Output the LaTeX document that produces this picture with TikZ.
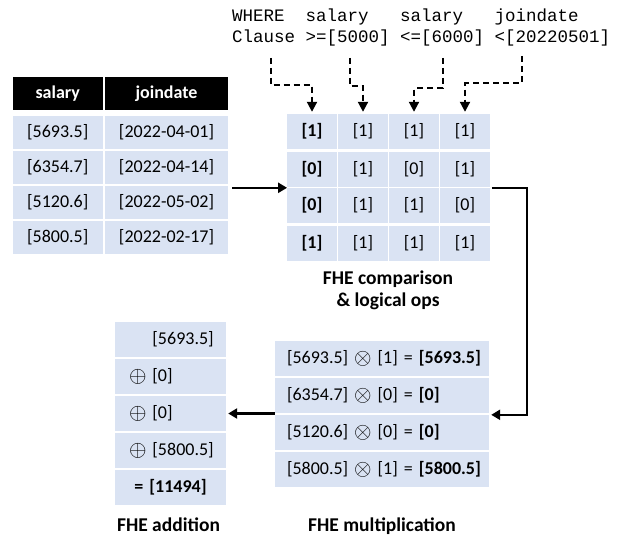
\documentclass[tikz,border=0pt]{standalone}
\usepackage{fontspec}
\usepackage{graphicx}
\setmainfont{Carlito}
\setmonofont{Liberation Mono}
\usetikzlibrary{arrows.meta}
\definecolor{cellblue}{RGB}{218,227,243}
\newcommand{\cellfont}{\fontsize{18}{21.6}\selectfont}
\newcommand{\capfont}{\fontsize{19.5}{22}\selectfont\bfseries}
\newcommand{\sqlfont}{\ttfamily\fontsize{17.5}{21}\selectfont}
\newcommand{\otim}{\raisebox{-0.8pt}{\scalebox{1.3}{$\otimes$}}}
\newcommand{\oplu}{\raisebox{-0.8pt}{\scalebox{1.3}{$\oplus$}}}

\begin{document}
\begin{tikzpicture}[x=1pt,y=-1pt,
  cell/.style={fill=cellblue,inner sep=0pt,minimum height=33pt,font=\cellfont},
  head/.style={fill=black,text=white,inner sep=0pt,minimum height=33pt,font=\cellfont\bfseries},
  bit/.style={cell,minimum width=49.5pt,minimum height=35pt},
  mulrow/.style={cell,minimum height=35pt,inner xsep=12pt,text width=190pt,align=left},
  addrow/.style={cell,minimum height=35pt,inner xsep=14pt,text width=83pt,align=left},
  sql/.style={font=\sqlfont,inner sep=0pt},
  caption/.style={font=\capfont,align=center},
  flow/.style={line width=2.4pt,-{Triangle[width=10pt,length=9pt]}},
  cond/.style={line width=2pt,dash pattern=on 6pt off 4pt,-{Triangle[width=10pt,length=10pt]}}]
\useasboundingbox (0,0) rectangle (621,535);

% where clause
\node[sql,anchor=base west] (sqlcols) at (232,22) {WHERE~~salary~~~salary~~~joindate};
\node[sql,anchor=base west] (sqlvals) at (232,43) {Clause >=[5000] <=[6000] <[20220501]};

% encrypted table
\node[head,minimum width=90.5pt] (hsal) at (57.75,93.5) {salary};
\node[head,minimum width=123pt] (hjd) at (166.5,93.5) {joindate};
\node[cell,minimum width=90.5pt] (sal1) at (57.75,132) {[5693.5]};
\node[cell,minimum width=90.5pt] (sal2) at (57.75,167) {[6354.7]};
\node[cell,minimum width=90.5pt] (sal3) at (57.75,202) {[5120.6]};
\node[cell,minimum width=90.5pt] (sal4) at (57.75,237) {[5800.5]};
\node[cell,minimum width=123pt] (jd1) at (166.5,132) {[2022-04-01]};
\node[cell,minimum width=123pt] (jd2) at (166.5,167) {[2022-04-14]};
\node[cell,minimum width=123pt] (jd3) at (166.5,202) {[2022-05-02]};
\node[cell,minimum width=123pt] (jd4) at (166.5,237) {[2022-02-17]};

% comparison results
\foreach \r/\y/\a/\b/\c/\d in {1/131.5/1/1/1/1,2/169/0/1/0/1,3/205.5/0/1/1/0,4/243/1/1/1/1} {
  \node[bit,font=\cellfont\bfseries] (g\r1) at (312,\y) {[\a]};
  \node[bit] (g\r2) at (363,\y) {[\b]};
  \node[bit] (g\r3) at (414,\y) {[\c]};
  \node[bit] (g\r4) at (465,\y) {[\d]};
}
\node[caption,anchor=base] (cmpcap) at (388,284) {FHE comparison};
\node[caption,anchor=base] (cmpcap2) at (388,306) {\& logical ops};

% multiplication
\node[mulrow] (m1) at (382,358.5) {\mbox{[5693.5] \otim{} [1] = \textbf{[5693.5]}}};
\node[mulrow] (m2) at (382,395.5) {\mbox{[6354.7] \otim{} [0] = \textbf{[0]}}};
\node[mulrow] (m3) at (382,432.5) {\mbox{[5120.6] \otim{} [0] = \textbf{[0]}}};
\node[mulrow] (m4) at (382,469.5) {\mbox{[5800.5] \otim{} [1] = \textbf{[5800.5]}}};
\node[caption,anchor=base] (mulcap) at (382,531) {FHE multiplication};

% addition
\node[addrow] (a1) at (170.5,339.5) {\mbox{\phantom{\oplu} [5693.5]}};
\node[addrow] (a2) at (170.5,376.5) {\mbox{\oplu{} [0]}};
\node[addrow] (a3) at (170.5,413.5) {\mbox{\oplu{} [0]}};
\node[addrow] (a4) at (170.5,450.5) {\mbox{\oplu{} [5800.5]}};
\node[addrow,align=center] (a5) at (170.5,487.5) {\textbf{= [11494]}};
\node[caption,anchor=base] (addcap) at (168.5,531) {FHE addition};

% conditions to columns
\coordinate (c1) at (270.5,58);
\coordinate (c2) at (349.5,58);
\coordinate (c3) at (442.5,58);
\coordinate (c4) at (521.5,56);
\draw[cond] (c1) -- ++(0,27) -| ([yshift=2pt]g11.north);
\draw[cond] (c2) -- ++(0,28) -| ([yshift=2pt]g12.north);
\draw[cond] (c3) -- ++(0,30) -| ([yshift=2pt]g13.north);
\draw[cond] (c4) -- ++(0,27) -| ([yshift=2pt]g14.north);

% data flow
\draw[flow] ([xshift=4pt]jd3.east |- g31.north west) -- (g31.north west);
\draw[flow] ([xshift=2pt]g34.north east) -- ++(35,0) |- ([xshift=2pt]m3.north east);
\draw[flow] (a3.east -| m3.west) -- ([xshift=2pt]a3.east);
\end{tikzpicture}
\end{document}
